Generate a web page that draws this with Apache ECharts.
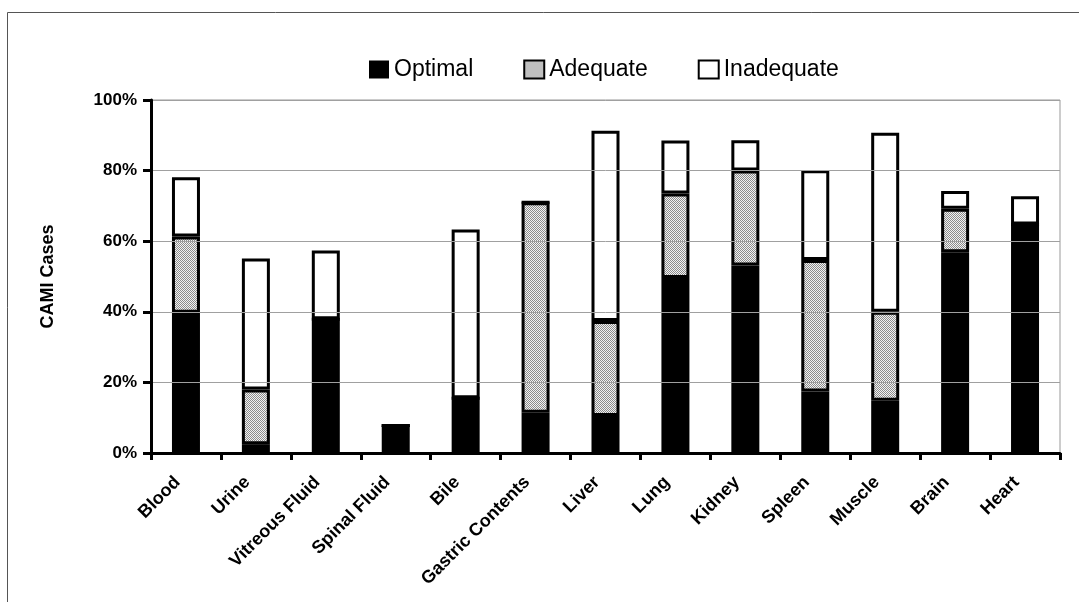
<!DOCTYPE html>
<html>
<head>
<meta charset="utf-8">
<script src="https://cdn.jsdelivr.net/npm/echarts@6/dist/echarts.min.js"></script>
<style>
html,body{margin:0;padding:0;background:#fff;}
#chart{width:1079px;height:602px;}
</style>
</head>
<body>
<div id="chart"></div>
<script>
var categories = ['Blood','Urine','Vitreous Fluid','Spinal Fluid','Bile','Gastric Contents','Liver','Lung','Kidney','Spleen','Muscle','Brain','Heart'];
var optimal    = [39.7, 2.5, 37.9, 7.8, 15.5, 11.4, 10.5, 49.6, 53.1, 17.4, 14.8, 56.9, 64.7];
var adequate   = [21.6, 15.5, 0, 0, 0, 59.6, 26.9, 23.9, 26.9, 37.3, 25.2, 12.3, 0];
var inadequate = [16.8, 37.1, 19.5, 0, 47.8, 0, 53.9, 15.0, 8.6, 25.4, 50.7, 5.0, 8.0];
var yTicks = [0, 20, 40, 60, 80, 100];

var FONT = "'Liberation Sans', Arial, Helvetica, sans-serif";

function makePattern(){
  var c = document.createElement('canvas');
  c.width = 2; c.height = 2;
  var ctx = c.getContext('2d');
  ctx.fillStyle = '#f2f2f2'; ctx.fillRect(0,0,2,2);
  ctx.fillStyle = '#8c8c8c';
  ctx.fillRect(0,0,1,1); ctx.fillRect(1,1,1,1);
  return c;
}
var pat = {image: makePattern(), repeat: 'repeat'};

var chart = echarts.init(document.getElementById('chart'), null, {renderer:'canvas'});
chart.setOption({
  animation: false,
  backgroundColor: '#fff',
  graphic: [{
    type: 'rect', silent: true, z: -10,
    shape: {x: 7.5, y: 12.5, width: 1300, height: 900},
    style: {fill: 'none', stroke: '#555', lineWidth: 1}
  }],
  legend: {
    left: 369, top: 58, padding: 0,
    icon: 'rect',
    itemWidth: 20, itemHeight: 18, itemGap: 50,
    textStyle: {fontFamily: FONT, fontSize: 23, color: '#000'},
    data: [
      {name: 'Optimal', itemStyle: {color: '#000', borderColor: '#000', borderWidth: 0}},
      {name: 'Adequate', itemStyle: {color: pat, borderColor: '#000', borderWidth: 2}},
      {name: 'Inadequate', itemStyle: {color: '#fff', borderColor: '#000', borderWidth: 2}}
    ]
  },
  grid: {left: 151, right: 19, top: 100, bottom: 149, show: true, borderColor: '#999', borderWidth: 1},
  xAxis: {
    type: 'category',
    data: categories,
    axisLine: {lineStyle: {color: '#000', width: 3}},
    axisTick: {show: true, length: 7, lineStyle: {color: '#000', width: 3}},
    axisLabel: {rotate: 45, interval: 0, margin: 18, padding: [0, 12, 0, 0], color: '#000', fontFamily: FONT, fontSize: 18, fontWeight: 'bold'},
    z: 10
  },
  yAxis: {
    type: 'value', min: 0, max: 100, interval: 20,
    name: 'CAMI Cases', nameLocation: 'middle', nameGap: 94,
    nameTextStyle: {fontFamily: FONT, fontSize: 18, fontWeight: 'bold', color: '#000'},
    axisLine: {show: true, lineStyle: {color: '#000', width: 3}},
    axisTick: {show: true, length: 8, lineStyle: {color: '#000', width: 3}},
    axisLabel: {margin: 14, color: '#000', fontFamily: FONT, fontSize: 17, fontWeight: 'bold',
      formatter: function(v){ return v + '%'; }},
    splitLine: {lineStyle: {color: '#a0a0a0', width: 1}},
    z: 10
  },
  series: [
    {name: 'Optimal', type: 'bar', stack: 'all', data: optimal, barWidth: 28,
      itemStyle: {color: '#000', borderColor: '#000', borderWidth: 0}},
    {name: 'Adequate', type: 'bar', stack: 'all', data: adequate, barWidth: 28,
      itemStyle: {color: pat, borderColor: '#000', borderWidth: 3}},
    {name: 'Inadequate', type: 'bar', stack: 'all', data: inadequate, barWidth: 28,
      itemStyle: {color: '#fff', borderColor: '#000', borderWidth: 3}}
  ]
});
</script>
</body>
</html>
